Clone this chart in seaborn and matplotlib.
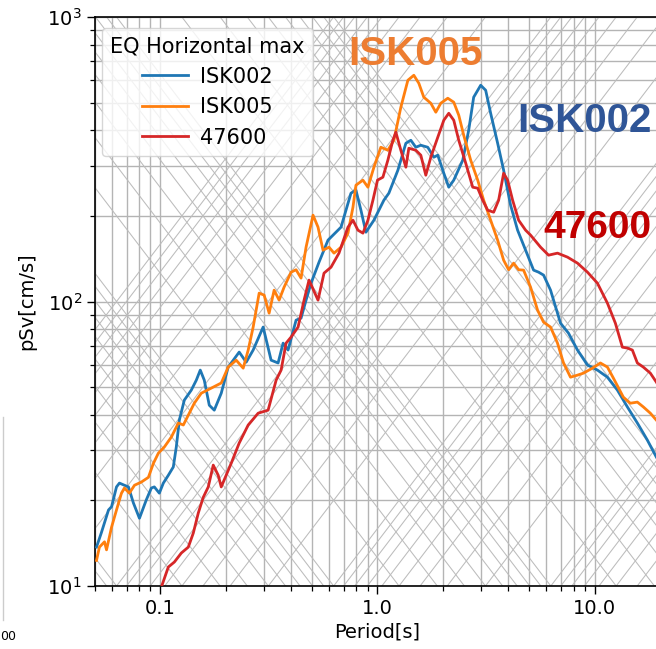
import numpy as np
import pandas as pd
import matplotlib
matplotlib.use("Agg")
import matplotlib.pyplot as plt
import matplotlib.ticker as mticker
from matplotlib.lines import Line2D
import seaborn as sns

# ---------------- data ----------------
isk002_period = [0.0508, 0.0535, 0.0577, 0.0596, 0.0628, 0.0648, 0.0683, 0.0713, 0.0751, 0.0801,
                 0.0862, 0.0909, 0.0938, 0.0989, 0.1032, 0.1088, 0.1147, 0.1184, 0.1223, 0.1289,
                 0.1388, 0.1464, 0.1527, 0.1593, 0.1680, 0.1771, 0.1907, 0.2053, 0.2307, 0.2485,
                 0.2675, 0.2974, 0.3236, 0.3485, 0.3675, 0.3874, 0.4217, 0.4446, 0.4688, 0.4943,
                 0.5379, 0.5916, 0.6792, 0.7548, 0.7957, 0.8388, 0.8844, 0.9627, 1.070, 1.128,
                 1.241, 1.351, 1.424, 1.501, 1.583, 1.704, 1.816, 1.895, 2.020, 2.129,
                 2.245, 2.469, 2.630, 2.773, 2.987, 3.149, 3.320, 3.575, 3.810, 4.102,
                 4.418, 4.809, 5.234, 5.519, 5.819, 6.266, 6.964, 7.580, 8.337, 9.268,
                 10.30, 11.45, 12.73, 14.15, 15.73, 17.48, 19.23, 20.50]
isk002_psv = [13.7, 15.4, 18.5, 19.0, 22.3, 23.0, 22.6, 22.3, 19.6, 17.3,
              20.1, 22.1, 22.3, 21.2, 23.0, 24.5, 26.2, 30.8, 38.3, 45.0,
              48.8, 52.9, 57.4, 52.9, 43.2, 41.5, 47.6, 58.8, 66.4, 61.2,
              67.5, 81.3, 62.2, 60.8, 71.4, 67.5, 86.0, 87.4, 101.1, 116.0,
              137.5, 164.3, 182.5, 240.3, 246.2, 209.4, 175.2, 193.1, 227.0, 240.3,
              289.3, 360.0, 368.8, 348.5, 354.2, 348.5, 321.5, 326.8, 282.4, 252.2,
              267.0, 313.7, 399.9, 522.5, 575.6, 552.7, 458.8, 360.0, 289.3, 218.0,
              178.1, 151.5, 128.9, 126.8, 123.8, 109.6, 83.9, 77.4, 67.5, 59.8,
              57.4, 54.2, 48.8, 42.6, 37.4, 32.6, 28.4, 26.2]

isk005_period = [0.0508, 0.0524, 0.0553, 0.0565, 0.0596, 0.0628, 0.0662, 0.0683, 0.0720, 0.0760,
                 0.0818, 0.0881, 0.0929, 0.0979, 0.1043, 0.1124, 0.1210, 0.1276, 0.1359, 0.1433,
                 0.1543, 0.1715, 0.1907, 0.2053, 0.2235, 0.2407, 0.2538, 0.2675, 0.2851, 0.3006,
                 0.3169, 0.3341, 0.3523, 0.3714, 0.4000, 0.4217, 0.4446, 0.4688, 0.5048, 0.5322,
                 0.5611, 0.5980, 0.6304, 0.6792, 0.7311, 0.7709, 0.7957, 0.8569, 0.9034, 0.9627,
                 1.036, 1.116, 1.190, 1.281, 1.380, 1.470, 1.550, 1.634, 1.760, 1.856,
                 1.956, 2.107, 2.245, 2.367, 2.495, 2.687, 2.894, 3.083, 3.320, 3.575,
                 3.810, 4.017, 4.236, 4.466, 4.708, 5.070, 5.460, 5.819, 6.266, 6.745,
                 7.189, 7.742, 8.337, 8.882, 9.768, 10.63, 11.45, 12.20, 13.56, 14.60,
                 15.73, 16.76, 18.05, 19.23, 20.50]
isk005_psv = [12.3, 13.7, 14.3, 13.4, 16.1, 18.5, 21.2, 22.1, 21.2, 22.6,
              23.2, 24.1, 27.0, 29.3, 30.8, 33.4, 37.4, 36.8, 40.5, 43.9,
              47.6, 49.6, 51.7, 58.8, 62.2, 58.3, 67.5, 81.3, 107.0, 105.3,
              91.0, 109.6, 101.1, 112.3, 126.8, 129.3, 120.8, 155.2, 201.1, 182.5,
              151.5, 155.2, 147.9, 155.2, 173.9, 214.5, 256.4, 267.0, 252.2, 296.5,
              348.5, 340.2, 368.8, 481.9, 599.3, 624.0, 584.9, 522.5, 497.6, 462.8,
              497.6, 518.2, 501.7, 451.7, 384.1, 313.7, 267.0, 227.0, 193.1, 164.3,
              139.7, 129.3, 136.4, 129.3, 128.9, 112.3, 93.2, 84.6, 81.3, 71.4,
              60.8, 54.2, 55.1, 56.0, 58.3, 60.8, 58.8, 53.8, 46.1, 43.9,
              44.3, 42.6, 40.5, 38.3, 36.2]

st47600_period = [0.1011, 0.1088, 0.1160, 0.1249, 0.1345, 0.1418, 0.1495, 0.1576, 0.1662, 0.1752,
                  0.1847, 0.1907, 0.2120, 0.2307, 0.2538, 0.2821, 0.3135, 0.3413, 0.3598, 0.3793,
                  0.4000, 0.4307, 0.4590, 0.4838, 0.5322, 0.5671, 0.6108, 0.6646, 0.7311, 0.7709,
                  0.8128, 0.8569, 0.9034, 0.9526, 1.000, 1.059, 1.116, 1.177, 1.215, 1.281,
                  1.351, 1.394, 1.501, 1.583, 1.669, 1.760, 1.895, 2.020, 2.129, 2.245,
                  2.367, 2.549, 2.745, 2.894, 3.051, 3.217, 3.427, 3.613, 3.810, 3.975,
                  4.191, 4.466, 4.809, 5.070, 5.637, 6.135, 6.745, 7.499, 8.337, 9.268,
                  10.30, 11.45, 12.46, 13.42, 14.15, 14.92, 15.73, 16.76, 18.05, 19.23,
                  20.50]
st47600_psv = [9.92, 11.66, 12.14, 13.06, 13.7, 15.35, 18.05, 20.5, 22.3, 26.6,
               24.5, 22.3, 27.0, 31.8, 36.8, 40.5, 41.5, 52.9, 57.4, 71.4,
               75.0, 81.3, 101.1, 118.9, 101.1, 125.8, 132.0, 147.9, 182.5, 193.1,
               178.1, 173.9, 193.1, 227.0, 267.0, 273.5, 313.7, 368.8, 393.6, 340.2,
               296.5, 345.7, 340.2, 326.8, 277.9, 321.5, 377.9, 433.6, 458.8, 433.6,
               368.8, 306.2, 252.2, 250.2, 227.0, 209.4, 206.0, 227.0, 282.4, 267.0,
               227.0, 193.1, 178.1, 171.1, 155.2, 145.5, 147.9, 143.2, 136.4, 126.8,
               116.0, 98.7, 83.9, 69.1, 68.6, 67.5, 60.8, 58.8, 56.0, 52.1,
               48.0]

series_names = ["ISK002", "ISK005", "47600"]
series_colors = ["#1f77b4", "#ff7f0e", "#d62728"]
annot_colors = ["#2F5597", "#ED7D31", "#C00000"]
legend_title = "EQ Horizontal max"
x_label = "Period[s]"
y_label = "pSv[cm/s]"
x_ticks = [0.1, 1.0, 10.0]
x_tick_labels = ["0.1", "1.0", "10.0"]
x_limits = (0.05, 20.0)
y_limits = (10.0, 1000.0)

# tripartite grid levels
disp_levels_cm = [k * 10.0 ** n for n in range(-3, 3) for k in range(1, 10) if k * 10.0 ** n <= 100]
acc_levels_gal = [k * 10.0 ** n for n in range(-1, 5) for k in range(1, 10) if k * 10.0 ** n <= 10000]

# ---------------- build table ----------------
frames = []
for name, per, psv in [("ISK002", isk002_period, isk002_psv),
                       ("ISK005", isk005_period, isk005_psv),
                       ("47600", st47600_period, st47600_psv)]:
    frames.append(pd.DataFrame({"Period": per, "pSv": psv, "Station": name}))
df = pd.concat(frames, ignore_index=True)

# ---------------- figure ----------------
fig = plt.figure(figsize=(6.56, 6.49), dpi=100)
ax = fig.add_axes([95 / 656, 63 / 649, 565 / 656, 569 / 649])
ax.set_xscale("log")
ax.set_yscale("log")

grid_color = "#b4b4b4"
diag_color = "#bcbcbc"
t_ends = np.array(x_limits)
for d in disp_levels_cm:
    ax.plot(t_ends, 2 * np.pi * d / t_ends, color=diag_color, lw=0.75, zorder=0.6)
for a in acc_levels_gal:
    ax.plot(t_ends, a * t_ends / (2 * np.pi), color=diag_color, lw=0.75, zorder=0.6)

ax.grid(True, which="both", color=grid_color, linewidth=1.0, zorder=0.5)
ax.set_axisbelow(True)

palette = dict(zip(series_names, series_colors))
sns.lineplot(data=df, x="Period", y="pSv", hue="Station", hue_order=series_names,
             palette=palette, estimator=None, sort=False, linewidth=2.0, ax=ax, zorder=3)

ax.set_xlim(*x_limits)
ax.set_ylim(*y_limits)
ax.set_xticks(x_ticks)
ax.set_xticklabels(x_tick_labels)
ax.xaxis.set_minor_formatter(mticker.NullFormatter())
ax.yaxis.set_minor_formatter(mticker.NullFormatter())
ax.tick_params(axis="both", which="major", labelsize=14, length=6, width=1.0)
ax.tick_params(axis="both", which="minor", length=3.5, width=0.9)
for sp in ax.spines.values():
    sp.set_linewidth(1.2)
    sp.set_color("black")

ax.set_xlabel(x_label, fontsize=14, labelpad=3)
ax.set_ylabel(y_label, fontsize=14, labelpad=8)

handles, labels = ax.get_legend_handles_labels()
leg = ax.legend(handles, labels, title=legend_title, loc="upper left",
                bbox_to_anchor=(7 / 565, (586 - 28) / 569), borderaxespad=0.0,
                fontsize=15, title_fontsize=15, handlelength=2.2, handletextpad=0.6,
                framealpha=0.8)

# station annotations
ann_font = dict(family="Liberation Sans", weight="bold", fontsize=29)
fig.text(415.5 / 656, 1 - 65 / 649, "ISK005", color=annot_colors[1], ha="center", va="baseline", **ann_font)
fig.text(584 / 656, 1 - 132 / 649, "ISK002", color=annot_colors[0], ha="center", va="baseline", **ann_font)
fig.text(543 / 656, 1 - 238 / 649, "47600", color=annot_colors[2], ha="left", va="baseline",
         family="Liberation Sans", weight="bold", fontsize=28)

# remnant of neighbouring panel at the left edge
fig.text(0.0, 1 - 636 / 649, "00", fontsize=9, ha="left", va="center")
fig.add_artist(Line2D([3 / 656, 3 / 656], [1 - 620 / 649, 1 - 417 / 649], color="#cccccc", lw=1.0))

fig.savefig("out.png", dpi=100)
